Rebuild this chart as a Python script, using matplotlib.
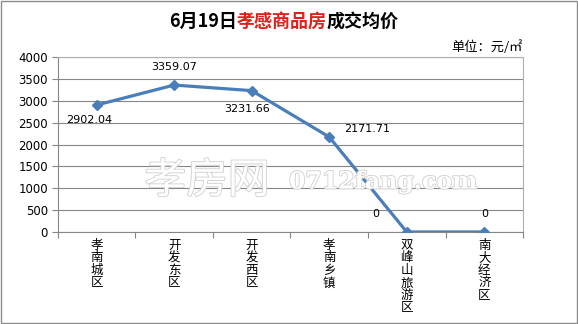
import matplotlib
matplotlib.use("Agg")
import matplotlib.pyplot as plt
import matplotlib.patheffects as pe
from matplotlib.patches import Rectangle

plt.rcParams["font.family"] = ["Noto Sans CJK SC", "DejaVu Sans"]

districts = ["孝南城区", "开发东区", "开发西区", "孝南乡镇", "双峰山旅游区", "南大经济区"]
prices = [2902.04, 3359.07, 3231.66, 2171.71, 0, 0]
label_offsets = [(-5, -11), (0, 13), (-3, -13), (27, 6), (-22, 13), (0, 13)]
y_ticks = [0, 500, 1000, 1500, 2000, 2500, 3000, 3500, 4000]

fig = plt.figure(figsize=(5.78, 3.24), dpi=100)
fig.patches.append(Rectangle((0.002, 0.003), 0.996, 0.994, transform=fig.transFigure,
                             fill=False, edgecolor="#8c8c8c", linewidth=1))

ax = fig.add_axes([0.100, 0.284, 0.805, 0.540])
x = list(range(len(districts)))
ax.plot(x, prices, color="#4a7ebb", linewidth=2.3, marker="D", markersize=5, zorder=3)

for i, (v, off) in enumerate(zip(prices, label_offsets)):
    ax.annotate(f"{v:g}" if v == 0 else f"{v:.2f}", (i, v), xytext=off, textcoords="offset points",
                ha="center", va="center", fontsize=8, family="DejaVu Sans")

ax.set_xlim(-0.5, len(districts) - 0.5)
ax.set_ylim(0, 4000)
ax.set_yticks(y_ticks)
ax.set_yticklabels([str(t) for t in y_ticks], fontsize=8.5, family="DejaVu Sans")
ax.yaxis.grid(True, color="#868686", linewidth=0.8)
ax.set_axisbelow(True)

ax.set_xticks([i + 0.5 for i in range(-1, len(districts))])
ax.set_xticklabels([])
ax.tick_params(axis="x", length=4, color="#868686", direction="out")
ax.tick_params(axis="y", length=4, color="#868686", direction="out", pad=3)
for i, name in enumerate(districts):
    ax.text(i, -0.04, "\n".join(name), transform=ax.get_xaxis_transform(), ha="center", va="top",
            fontsize=9, linespacing=0.95)

for side in ["left", "bottom"]:
    ax.spines[side].set_color("#868686")
for side in ["top", "right"]:
    ax.spines[side].set_color("#b0b0b0")

# watermark
fig.text(0.25, 0.44, "孝房网", fontsize=30, color="white", ha="left", va="center",
         path_effects=[pe.withStroke(linewidth=1.3, foreground="#d2d2d2")], zorder=5)
fig.text(0.50, 0.44, "0712fang.com", fontsize=17, color="white", ha="left", va="center",
         family="DejaVu Serif", weight="bold",
         path_effects=[pe.withStroke(linewidth=1.3, foreground="#d2d2d2")], zorder=5)

# title with red middle part
title_y = 0.935
t1 = fig.text(0.292, title_y, "6月19日", fontsize=13, weight="bold", ha="left", va="center")
fig.canvas.draw()
r = fig.canvas.get_renderer()
bb = t1.get_window_extent(r)
t2 = fig.text(bb.x1 / fig.bbox.width, title_y, "孝感商品房", fontsize=13, color="#e0201b",
              weight="bold", ha="left", va="center")
bb = t2.get_window_extent(r)
fig.text(bb.x1 / fig.bbox.width, title_y, "成交均价", fontsize=13, weight="bold",
         ha="left", va="center")

fig.text(0.78, 0.855, "单位：元/㎡", fontsize=9.5, ha="left", va="center")

fig.savefig("out.png", dpi=100)
